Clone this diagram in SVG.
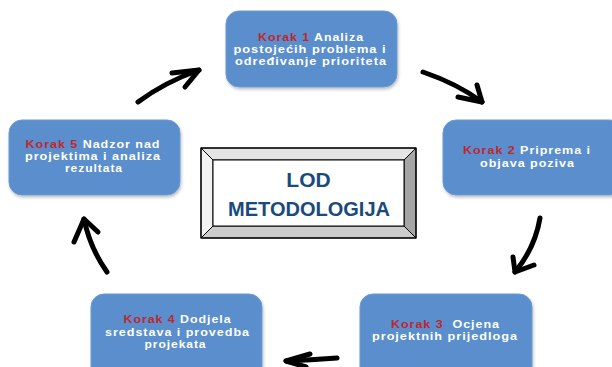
<svg xmlns="http://www.w3.org/2000/svg" width="612" height="367" viewBox="0 0 612 367">
<defs>
<filter id="sh" x="-10%" y="-10%" width="120%" height="130%">
<feDropShadow dx="1" dy="2" stdDeviation="1.5" flood-color="#000" flood-opacity="0.25"/>
</filter>
</defs>
<style>
.box{fill:#5a8ecc;stroke:#6c9bd3;stroke-width:1;filter:url(#sh)}
.t{font-family:"Liberation Sans",Arial,sans-serif;font-weight:bold;font-size:10.5px;letter-spacing:0.8px;fill:#ffffff;text-anchor:middle}
.k{fill:#c0272d}
.arr{fill:none;stroke:#000;stroke-width:5;stroke-linecap:round;stroke-linejoin:round}
.big{font-family:"Liberation Sans",Arial,sans-serif;font-weight:bold;font-size:21px;fill:#1a4a7c;text-anchor:middle}
</style>
<rect width="612" height="367" fill="#ffffff"/>

<g id="korak1">
<rect class="box" x="226" y="11" width="171" height="76" rx="13"/>
<text class="t" x="311" y="40.5" textLength="106" lengthAdjust="spacingAndGlyphs"><tspan class="k">Korak 1</tspan> Analiza</text>
<text class="t" x="310" y="52.7" textLength="153" lengthAdjust="spacingAndGlyphs">postojećih problema i</text>
<text class="t" x="311" y="65" textLength="152" lengthAdjust="spacingAndGlyphs">određivanje prioriteta</text>
</g>

<g id="korak2">
<rect class="box" x="443" y="120" width="180" height="75" rx="13"/>
<text class="t" x="527" y="154" textLength="128" lengthAdjust="spacingAndGlyphs"><tspan class="k">Korak 2</tspan> Priprema i</text>
<text class="t" x="527.5" y="166.7" textLength="95" lengthAdjust="spacingAndGlyphs">objava poziva</text>
</g>

<g id="korak3">
<rect class="box" x="360" y="294" width="172" height="90" rx="13"/>
<text class="t" x="445.5" y="327.7" textLength="109" lengthAdjust="spacingAndGlyphs"><tspan class="k">Korak 3</tspan>&#160; Ocjena</text>
<text class="t" x="445" y="340" textLength="146" lengthAdjust="spacingAndGlyphs">projektnih prijedloga</text>
</g>

<g id="korak4">
<rect class="box" x="91" y="294" width="171" height="90" rx="13"/>
<text class="t" x="177.5" y="323" textLength="108" lengthAdjust="spacingAndGlyphs"><tspan class="k">Korak 4</tspan> Dodjela</text>
<text class="t" x="177.5" y="335.7" textLength="145" lengthAdjust="spacingAndGlyphs">sredstava i provedba</text>
<text class="t" x="175.5" y="347.5" textLength="62" lengthAdjust="spacingAndGlyphs">projekata</text>
</g>

<g id="korak5">
<rect class="box" x="9" y="120" width="171" height="75" rx="13"/>
<text class="t" x="93" y="148.3" textLength="135" lengthAdjust="spacingAndGlyphs"><tspan class="k">Korak 5</tspan> Nadzor nad</text>
<text class="t" x="93" y="160" textLength="136" lengthAdjust="spacingAndGlyphs">projektima i analiza</text>
<text class="t" x="94" y="171.7" textLength="58" lengthAdjust="spacingAndGlyphs">rezultata</text>
</g>

<g id="lod">
<rect x="201" y="148" width="215" height="90" fill="#ffffff"/>
<polygon points="201,148 416,148 404,160 213,160" fill="#e4e4e4" stroke="#000" stroke-width="1"/>
<polygon points="201,148 213,160 213,226 201,238" fill="#f2f2f2" stroke="#000" stroke-width="1"/>
<polygon points="416,148 416,238 404,226 404,160" fill="#a6a6a6" stroke="#000" stroke-width="1"/>
<polygon points="201,238 213,226 404,226 416,238" fill="#cccccc" stroke="#000" stroke-width="1"/>
<rect x="213" y="160" width="191" height="66" fill="#ffffff" stroke="#000" stroke-width="1"/>
<rect x="201" y="148" width="215" height="90" fill="none" stroke="#000" stroke-width="1.2"/>
<text class="big" x="308.5" y="186.7">LOD</text>
<text class="big" x="309" y="215.7" textLength="162" lengthAdjust="spacingAndGlyphs">METODOLOGIJA</text>
</g>

<g id="connectors">
<path class="arr" d="M138,102 Q165,82 199,70"/>
<path class="arr" d="M172,73 L199,70 L185,87"/>
<path class="arr" d="M423,72 Q458,84 482,102"/>
<path class="arr" d="M458,97 L482,102 L477,85"/>
<path class="arr" d="M540,218 Q535,248 515,272"/>
<path class="arr" d="M513,257 L515,272 L534,265"/>
<path class="arr" d="M337,358 Q310,360 286,361"/>
<path class="arr" d="M310,354 L286,361 L306,367"/>
<path class="arr" d="M107,272 Q90,248 84,219"/>
<path class="arr" d="M74,242 L84,219 L98,232"/>
</g>
</svg>
